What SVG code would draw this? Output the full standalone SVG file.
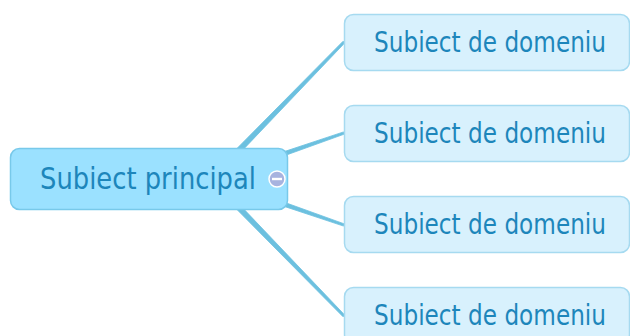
<svg xmlns="http://www.w3.org/2000/svg" width="630" height="336" viewBox="0 0 630 336">
<style>
.conn{fill:#6cc0df;stroke:#6cc0df;stroke-width:0.8;stroke-linejoin:round}
.main{fill:#9be1ff;stroke:#78c9ea;stroke-width:1.5}
.child{fill:#d8f1fd;stroke:#a6daf0;stroke-width:1.5}
.t{font-family:"DejaVu Sans",Verdana,sans-serif;fill:#1d86bb}
.ct{font-size:29px}
</style>
<rect width="630" height="336" fill="#ffffff"/>
<g id="connectors">
<polygon class="conn" points="213.2,181.1 344.9,42.8 343.1,41.2 208.8,176.9"/>
<polygon class="conn" points="212,181.8 344.4,134.1 343.6,131.9 210,176.2"/>
<polygon class="conn" points="210,181.8 343.6,226.1 344.4,223.9 212,176.2"/>
<polygon class="conn" points="208.8,181.1 343.1,316.8 344.9,315.2 213.2,176.9"/>
</g>
<g id="main">
<rect class="main" x="10.5" y="148.5" width="277" height="61" rx="9"/>
<text class="t" transform="translate(148,189) scale(0.8,1)" x="0" y="0" font-size="30" text-anchor="middle" textLength="270" lengthAdjust="spacingAndGlyphs">Subiect principal</text>
<circle cx="277" cy="179" r="8" fill="#a7b3df" stroke="#ffffff" stroke-width="1.5"/>
<rect x="272" y="177.8" width="10" height="2.4" fill="#ffffff"/>
</g>
<g id="child1">
<rect class="child" x="344.5" y="14.5" width="285" height="56" rx="9"/>
<text class="t ct" transform="translate(490,52) scale(0.8,1)" text-anchor="middle" textLength="290" lengthAdjust="spacingAndGlyphs">Subiect de domeniu</text>
</g>
<g id="child2">
<rect class="child" x="344.5" y="105.5" width="285" height="56" rx="9"/>
<text class="t ct" transform="translate(490,143) scale(0.8,1)" text-anchor="middle" textLength="290" lengthAdjust="spacingAndGlyphs">Subiect de domeniu</text>
</g>
<g id="child3">
<rect class="child" x="344.5" y="196.5" width="285" height="56" rx="9"/>
<text class="t ct" transform="translate(490,234) scale(0.8,1)" text-anchor="middle" textLength="290" lengthAdjust="spacingAndGlyphs">Subiect de domeniu</text>
</g>
<g id="child4">
<rect class="child" x="344.5" y="287.5" width="285" height="56" rx="9"/>
<text class="t ct" transform="translate(490,325) scale(0.8,1)" text-anchor="middle" textLength="290" lengthAdjust="spacingAndGlyphs">Subiect de domeniu</text>
</g>
</svg>
